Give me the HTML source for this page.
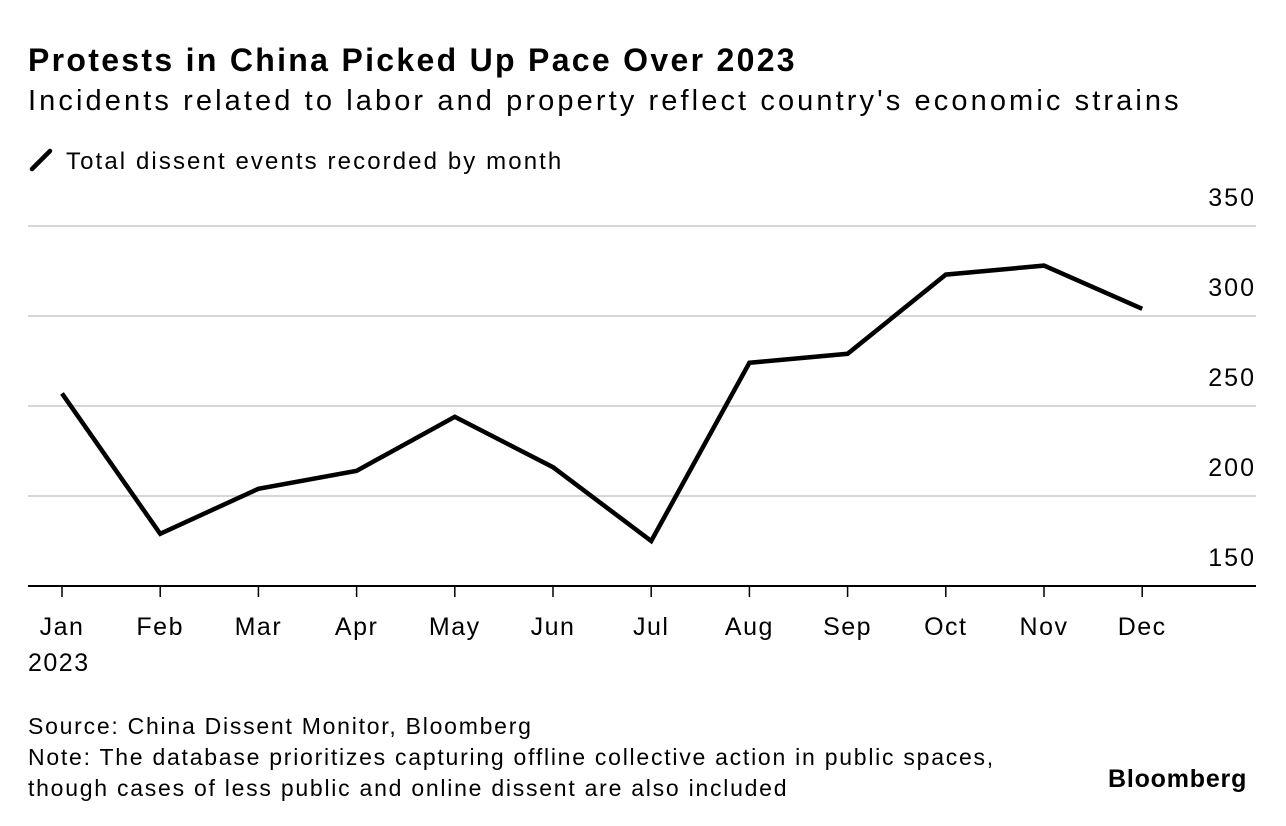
<!DOCTYPE html>
<html><head><meta charset="utf-8"><style>
body{margin:0;width:1286px;height:826px;background:#fff;font-family:"Liberation Sans",sans-serif;color:#000;overflow:hidden;position:relative}
.t{position:absolute;white-space:nowrap}
</style></head><body>
<div class="t" style="left:28px;top:42px;font-size:32px;font-weight:bold;letter-spacing:2.3px">Protests in China Picked Up Pace Over 2023</div>
<div class="t" style="left:28px;top:85px;font-size:29px;letter-spacing:3.1px">Incidents related to labor and property reflect country's economic strains</div>
<div class="t" style="left:28px;top:148px;font-size:24px;letter-spacing:2.1px"><svg width="38" height="24" style="vertical-align:-3px"><line x1="4" y1="21" x2="22" y2="3" stroke="#000" stroke-width="4.5" stroke-linecap="round"/></svg>Total dissent events recorded by month</div>
<svg id="chart" width="1286" height="700" style="position:absolute;left:0;top:0"></svg>
<div class="t" style="left:28px;top:711px;font-size:23px;line-height:31px;letter-spacing:1.75px">Source: China Dissent Monitor, Bloomberg<br>Note: The database prioritizes capturing offline collective action in public spaces,<br>though cases of less public and online dissent are also included</div>
<div class="t" style="left:1108px;top:765px;font-size:25px;font-weight:bold;letter-spacing:0.8px">Bloomberg</div>
<script>
const months=["Jan","Feb","Mar","Apr","May","Jun","Jul","Aug","Sep","Oct","Nov","Dec"];
const values=[257,179,204,214,244,216,175,274,279,323,328,304];
const yTicks=[150,200,250,300,350];
const svg=document.getElementById('chart');
const NS='http://www.w3.org/2000/svg';
const x=i=>62+i*98.2;
const y=v=>586-(v-150)*1.8;
function mk(t,a){const e=document.createElementNS(NS,t);for(const k in a)e.setAttribute(k,a[k]);svg.appendChild(e);return e;}
yTicks.forEach(v=>{
 if(v>150){const l=mk('line',{x1:28,x2:1256,y1:y(v),y2:y(v),stroke:'#d6d6d6','stroke-width':2});
 
 }
 const t=mk('text',{x:1256,y:y(v)-20,'text-anchor':'end','font-size':25,'letter-spacing':2,'font-family':'Liberation Sans'});
 t.textContent=v;
 
 
});
const ax=mk('line',{x1:28,x2:1256,y1:586,y2:586,stroke:'#000','stroke-width':2});


months.forEach((m,i)=>{
 const tk=mk('line',{x1:x(i),x2:x(i),y1:586,y2:597,stroke:'#000','stroke-width':1.5});
 
 
 const t=mk('text',{x:x(i),y:635,'text-anchor':'middle','font-size':25,'letter-spacing':1.5,'font-family':'Liberation Sans'});
 t.textContent=m;
 
 
});
const yr=mk('text',{x:28,y:671,'font-size':25,'letter-spacing':1.5,'font-family':'Liberation Sans'});
yr.textContent='2023';


const p=mk('polyline',{points:values.map((v,i)=>x(i)+','+y(v)).join(' '),fill:'none',stroke:'#000','stroke-width':4.5,'stroke-linejoin':'miter'});


</script>
</body></html>
